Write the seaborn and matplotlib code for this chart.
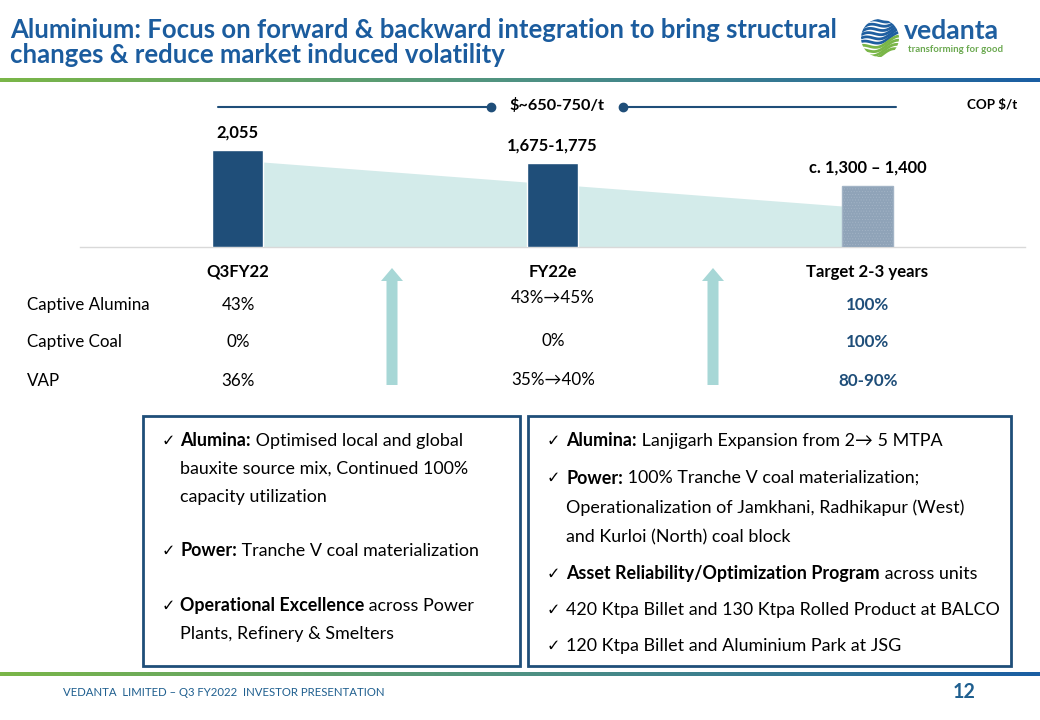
import numpy as np
import pandas as pd
import matplotlib
matplotlib.use("Agg")
import matplotlib.pyplot as plt
import seaborn as sns
from matplotlib.patches import FancyArrow, Rectangle, Circle
from matplotlib.colors import LinearSegmentedColormap

# ---------------- data ----------------
title_lines = ["Aluminium: Focus on forward & backward integration to bring structural",
               "changes & reduce market induced volatility"]
categories = ["Q3FY22", "FY22e", "Target 2-3 years"]
cop_values = [2055, 1775, 1300]
cop_labels = ["2,055", "1,675-1,775", "c. 1,300 \u2013 1,400"]
trend_values = [1800, 870]
conversion_label = "$~650-750/t"
unit_label = "COP $/t"
row_labels = ["Captive Alumina", "Captive Coal", "VAP"]
q3fy22_values = ["43%", "0%", "36%"]
fy22e_values = ["43%\u219245%", "0%", "35%\u219240%"]
target_values = ["100%", "100%", "80-90%"]
left_items = [
    [[("Alumina:", "bold"), (" Optimised local and global", "normal")],
     [("bauxite source mix, Continued 100%", "normal")],
     [("capacity utilization", "normal")]],
    [[("Power:", "bold"), (" Tranche V coal materialization", "normal")]],
    [[("Operational Excellence", "bold"), (" across Power", "normal")],
     [("Plants, Refinery & Smelters", "normal")]],
]
right_items = [
    [[("Alumina:", "bold"), (" Lanjigarh Expansion from 2\u2192 5 MTPA", "normal")]],
    [[("Power:", "bold"), (" 100% Tranche V coal materialization;", "normal")],
     [("Operationalization of Jamkhani, Radhikapur (West)", "normal")],
     [("and Kurloi (North) coal block", "normal")]],
    [[("Asset Reliability/Optimization Program", "bold"), (" across units", "normal")]],
    [[("420 Ktpa Billet and 130 Ktpa Rolled Product at BALCO", "normal")]],
    [[("120 Ktpa Billet and Aluminium Park at JSG", "normal")]],
]
footer_text = "VEDANTA  LIMITED \u2013 Q3 FY2022  INVESTOR PRESENTATION"
page_number = "12"
logo_name = "vedanta"
logo_tag = "transforming for good"

# ---------------- style ----------------
sns.set_theme(style="white")
plt.rcParams["font.family"] = ["Lato", "DejaVu Sans"]
plt.rcParams["hatch.linewidth"] = 0.4

DARK = "#1f4e79"
TITLE = "#1b5c9e"
TEAL = "#a7d7d6"
AREA = "#d3ebea"

W, H = 1040, 720
fig = plt.figure(figsize=(W / 100, H / 100), dpi=100)
fig.patch.set_facecolor("white")

# chart axes positioned in pixel space
x0, x1, ybase, ytop = 80, 1025, 247, 100
ax = fig.add_axes([x0 / W, 1 - ybase / H, (x1 - x0) / W, (ybase - ytop) / H])
ov = fig.add_axes([0, 0, 1, 1], zorder=5)
ov.set_xlim(0, W)
ov.set_ylim(H, 0)
ov.axis("off")
R = fig.canvas.get_renderer()


def text_w(s, size, weight="normal"):
    t = ov.text(0, 0, s, fontsize=size, fontweight=weight)
    w = t.get_window_extent(R).width
    t.remove()
    return w


def fit(s, width, weight="normal"):
    return 10 * width / text_w(s, 10, weight)


def runs(x, y, parts, size, color="black"):
    for s, w in parts:
        t = ov.text(x, y, s, fontsize=size, fontweight=w, color=color,
                    va="center", ha="left")
        x += t.get_window_extent(R).width


# ---------------- bar chart ----------------
df = pd.DataFrame({"cat": categories, "cop": cop_values})
bw = 0.165
sns.barplot(data=df, x="cat", y="cop", color=DARK, width=bw, ax=ax,
            edgecolor="white", linewidth=1, zorder=3, saturation=1)
third = ax.patches[2]
third.set_facecolor("#8fa3b8")
third.set_hatch("......")
third.set_edgecolor("#a3b4c6")
ax.fill_between([0 + bw / 2, 2 - bw / 2], trend_values, color=AREA, zorder=1, lw=0)
ax.set_xlim(-0.5, 2.5)
ax.set_ylim(0, 3115)
ax.set_yticks([])
ax.set_xlabel("")
ax.set_ylabel("")
for s in ["top", "left", "right"]:
    ax.spines[s].set_visible(False)
ax.spines["bottom"].set_color("#d9d9d9")
ax.spines["bottom"].set_linewidth(1)
ax.set_facecolor("none")
cat_size = fit("Target 2-3 years", 123, "bold")
ax.set_xticks(range(3))
ax.set_xticklabels(categories, fontsize=cat_size, fontweight="bold", color="black")
ax.tick_params(axis="x", which="major", length=0, pad=12)
ax.set_xticks([-0.5, 0.5, 1.5, 2.5], minor=True)
ax.tick_params(axis="x", which="minor", length=5, color="#d9d9d9", width=1, direction="out")
lab_size = fit("1,675-1,775", 90, "bold")
ax.bar_label(ax.containers[0], labels=cop_labels, padding=7, fontsize=lab_size,
             fontweight="bold", color="black")

# ---------------- header ----------------
title_size = fit(title_lines[0], 828, "bold")
ov.text(10, 30, title_lines[0], fontsize=title_size, fontweight="bold", color=TITLE, va="center")
ov.text(10, 55, title_lines[1], fontsize=title_size, fontweight="bold", color=TITLE, va="center")

grad = LinearSegmentedColormap.from_list("g", ["#7ab648", "#4f9283", "#1a5ea3"])
gx = np.linspace(0, 1, 400)[None, :]
ov.imshow(gx, cmap=grad, extent=(0, W, 82.5, 78.5), aspect="auto", zorder=1)
ov.imshow(gx, cmap=grad, extent=(0, W, 676, 672), aspect="auto", zorder=1)
ov.set_xlim(0, W)
ov.set_ylim(H, 0)

# logo
cx, cy, r = 880, 38, 19
circ = Circle((cx, cy), r, transform=ov.transData, facecolor="none", edgecolor="none")
ov.add_patch(circ)
xs = np.linspace(cx - r, cx + r, 120)
offs = np.linspace(-r + 2, r - 2, 10)
for i, off in enumerate(offs):
    col = "#1f5fa0" if i < 6 else "#7ab648"
    ys = cy + off + 3 * np.sin((xs - cx) / r * 3.2 + i * 0.3) - (xs - cx) * 0.25
    ln, = ov.plot(xs, ys, color=col, lw=2.0, solid_capstyle="butt")
    ln.set_clip_path(circ)
ov.text(904, 39, logo_name, fontsize=fit(logo_name, 95, "bold"), fontweight="bold",
        color="#1f5fa0", va="baseline")
ov.text(908, 52, logo_tag, fontsize=fit(logo_tag, 95, "bold"), fontweight="bold",
        color="#6aa84f", va="baseline")

# ---------------- conversion line ----------------
ov.plot([218, 491], [107, 107], color=DARK, lw=1.5)
ov.plot([623, 896], [107, 107], color=DARK, lw=1.5)
ov.plot([491, 623], [107, 107], "o", color=DARK, ms=6)
ov.text(557, 106, conversion_label, fontsize=fit(conversion_label, 95, "bold"),
        fontweight="bold", color="black", ha="center", va="center")
ov.text(1017, 105, unit_label, fontsize=fit(unit_label, 50, "bold"),
        fontweight="bold", color="black", ha="right", va="center")

# ---------------- table ----------------
row_size = fit("Captive Alumina", 123)
row_y = [305, 342, 381]
mid_y = [298, 341, 380]
col_x = [238, 553, 868]
for i, lab in enumerate(row_labels):
    ov.text(27, row_y[i], lab, fontsize=row_size, color="black", va="center")
    ov.text(col_x[0], row_y[i], q3fy22_values[i], fontsize=row_size, color="black",
            ha="center", va="center")
    ov.text(col_x[1], mid_y[i], fy22e_values[i], fontsize=row_size, color="black",
            ha="center", va="center")
    ov.text(col_x[2], row_y[i], target_values[i], fontsize=row_size, color=DARK,
            fontweight="bold", ha="center", va="center")

for axx in [392, 713]:
    ov.add_patch(FancyArrow(axx, 385, 0, -117, width=11, head_width=22, head_length=13,
                            length_includes_head=True, color=TEAL, lw=0))

# ---------------- boxes ----------------
ov.add_patch(Rectangle((143, 416), 377, 250, fill=False, edgecolor=DARK, lw=2))
ov.add_patch(Rectangle((528, 416), 483, 250, fill=False, edgecolor=DARK, lw=2))
body = min(fit("bauxite source mix, Continued 100%", 297),
           fit("420 Ktpa Billet and 130 Ktpa Rolled Product at BALCO", 431))


def draw_items(items, xc, xt, ys, dy):
    for item, y in zip(items, ys):
        ov.text(xc, y, "\u2713", fontsize=body * 0.9, color="black", va="center",
                family="DejaVu Sans")
        for j, line in enumerate(item):
            runs(xt, y + j * dy, line, body)


draw_items(left_items, 162, 180, [441, 551, 606], 28)
draw_items(right_items, 547, 566, [441, 478, 574, 610, 646], 29.5)

# ---------------- footer ----------------
ov.text(63, 693, footer_text, fontsize=fit(footer_text, 320), color="#1f5f8f",
        ha="left", va="center")
ov.text(976, 692, page_number, fontsize=fit(page_number, 23, "bold"), fontweight="bold",
        color="#1f5f8f", ha="right", va="center")

fig.savefig("out.png", dpi=100, facecolor="white")
